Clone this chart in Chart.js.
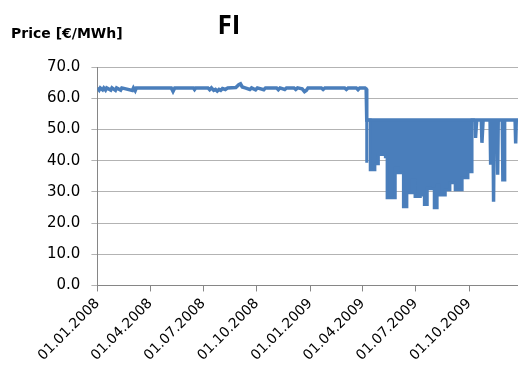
<!DOCTYPE html>
<html>
<head>
<meta charset="utf-8">
<script src="https://cdn.jsdelivr.net/npm/chart.js@4.4.1/dist/chart.umd.min.js"></script>
<style>
  html, body { margin: 0; padding: 0; background: #fff; }
  canvas { display: block; }
</style>
</head>
<body>
<canvas id="chart" width="518" height="374"></canvas>
<script>
// 標題
const chartTitle = 'FI';
const yAxisTitle = 'Price [€/MWh]';

// x 軸：自 01.01.2008 起算的天數
const tickDays = [0, 91, 182, 274, 366, 456, 547, 639];
const tickLabels = ['01.01.2008', '01.04.2008', '01.07.2008', '01.10.2008',
  '01.01.2009', '01.04.2009', '01.07.2009', '01.10.2009'];
const lastDay = 723;

// 2008 ~ 2009/04：約 63 €/MWh，小幅下探
const flatPeriod = [
  [0, 63.3], [3, 62.6], [5, 63.3], [9, 62.7], [11, 63.3], [14, 62.6], [16, 63.3],
  [23, 62.6], [25, 63.3], [31, 62.5], [33, 63.3], [40, 62.6], [42, 63.3], [60, 62.5],
  [62, 63.3], [65, 62.4], [67, 63.3], [127, 63.3], [130, 62.2], [133, 63.3], [165, 63.3],
  [167, 62.8], [169, 63.3], [190, 63.3], [193, 62.7], [196, 63.3], [200, 62.5], [203, 62.8],
  [206, 62.3], [209, 62.8], [212, 62.5], [215, 63.1], [220, 62.8], [224, 63.3], [238, 63.4],
  [243, 64.3], [246, 64.6], [249, 63.6], [254, 63.3], [262, 62.8], [265, 63.3], [272, 62.7],
  [275, 63.3], [286, 62.7], [289, 63.3], [308, 63.3], [311, 62.7], [314, 63.3], [322, 62.8],
  [325, 63.3], [338, 63.3], [341, 62.8], [344, 63.3], [352, 63.0], [356, 62.1], [359, 62.5],
  [362, 63.3], [385, 63.3], [388, 62.8], [391, 63.3], [425, 63.3], [428, 62.8], [431, 63.3],
  [445, 63.3], [448, 62.7], [451, 63.3], [460, 63.3], [462, 63.0]
];

// 2009/04 之後：約 53 €/MWh，零星深跌
const lowPeriod = [
  [463, 53], [649, 53], [650, 47.3], [652, 53], [660, 53], [661, 45.7], [663, 53],
  [675, 53], [676, 38.7], [678, 53], [680, 53], [681, 26.8], [682, 53], [687, 53],
  [688, 35.5], [689, 53], [696, 53], [697, 33.9], [699, 33.9], [700, 53], [718, 53],
  [719, 45.5], [720, 53], [723, 53]
];

// 2009/04 ~ 2009/11 每小時價格的下緣（53 以下整片密集區）
const denseLows = [
  [463, 39.3], [469, 53], [477, 37.1], [483, 39.0], [495, 42.0], [498, 41.2],
  [512, 28.1], [517, 37.7], [526, 36.1], [532, 25.2], [541, 29.7], [546, 33.9],
  [555, 28.5], [562, 29.0], [567, 25.9], [572, 31.3], [579, 31.0], [584, 24.9],
  [587, 32.3], [598, 29.0], [606, 30.7], [615, 32.9], [627, 30.7], [637, 34.5],
  [644, 36.4], [649, 53]
];

const LINE_COLOR = '#4A7EBB';
const toPoints = arr => arr.map(([x, y]) => ({ x, y }));

// 標題與 y 軸標題（水平）
const titlePlugin = {
  id: 'titles',
  afterDraw(chart) {
    const ctx = chart.ctx;
    ctx.save();
    ctx.fillStyle = '#000';
    ctx.textBaseline = 'alphabetic';
    ctx.font = 'bold 26px "Open Sans"';
    ctx.textAlign = 'center';
    ctx.fillText(chartTitle, 229, 34);
    ctx.font = 'bold 14px "DejaVu Sans"';
    ctx.textAlign = 'left';
    ctx.fillText(yAxisTitle, 11, 38);
    ctx.restore();
  }
};

Chart.defaults.font.family = '"DejaVu Sans", sans-serif';
Chart.defaults.color = '#000';

new Chart(document.getElementById('chart'), {
  type: 'line',
  data: {
    datasets: [
      {
        data: toPoints(flatPeriod.concat(lowPeriod)),
        borderColor: LINE_COLOR,
        borderWidth: 3.5,
        pointRadius: 0,
        tension: 0,
        fill: false
      },
      {
        data: toPoints(denseLows),
        borderColor: LINE_COLOR,
        backgroundColor: LINE_COLOR,
        borderWidth: 3,
        pointRadius: 0,
        stepped: 'after',
        fill: { value: 53 }
      }
    ]
  },
  options: {
    responsive: false,
    animation: false,
    layout: { padding: { top: 67, left: 36, right: 0, bottom: 6 } },
    plugins: {
      legend: { display: false },
      tooltip: { enabled: false }
    },
    scales: {
      x: {
        type: 'linear',
        min: 0,
        max: lastDay,
        afterBuildTicks: axis => { axis.ticks = tickDays.map(v => ({ value: v })); },
        ticks: {
          autoSkip: false,
          minRotation: 45,
          maxRotation: 45,
          padding: 4,
          font: { size: 14 },
          callback: v => tickLabels[tickDays.indexOf(v)]
        },
        grid: { drawOnChartArea: false, drawTicks: true, tickLength: 6, color: '#868686' },
        border: { color: '#868686' }
      },
      y: {
        min: 0,
        max: 70,
        ticks: {
          stepSize: 10,
          padding: 11,
          font: { size: 15 },
          callback: v => v.toFixed(1)
        },
        grid: { color: '#B3B3B3', tickLength: 6 },
        border: { color: '#868686' }
      }
    }
  },
  plugins: [titlePlugin]
});
</script>
</body>
</html>
